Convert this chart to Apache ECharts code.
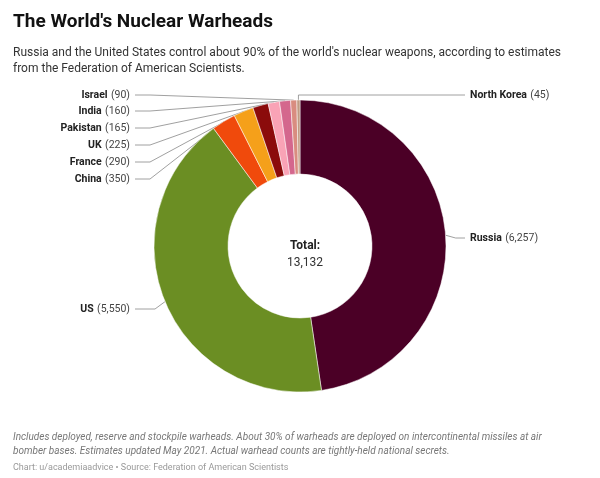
<!DOCTYPE html><html><head><meta charset="utf-8"><script src="https://cdn.jsdelivr.net/npm/echarts@6/dist/echarts.min.js"></script>
<style>body{margin:0;background:#fff}#c{width:600px;height:478px}</style></head><body><div id="c"></div><script>
const countries=['Russia','US','China','France','UK','Pakistan','India','Israel','North Korea'];
const warheads=[6257,5550,350,290,225,165,160,90,45];
const colors=['#4b0026','#6b8e23','#f04a0c','#f5a01a','#8b0b0b','#f9a3b6','#d4678d','#d98c80','#c19a82'];
const labelY={0:238,1:309,2:179,3:162,4:145,5:128,6:111,7:95,8:95};
const total=warheads.reduce((a,b)=>a+b,0);
const chart=echarts.init(document.getElementById('c'));
chart.setOption({
 animation:false,
 title:[{text:"The World's Nuclear Warheads",left:8,top:8,textStyle:{fontFamily:'Roboto',fontSize:19,fontWeight:'bold',color:'#111'}},
  {text:"Russia and the United States control about 90% of the world's nuclear weapons, according to estimates\nfrom the Federation of American Scientists.",left:8,top:40,textStyle:{fontFamily:'Roboto',fontSize:12,fontWeight:'normal',color:'#333',lineHeight:16}},
  {text:"Includes deployed, reserve and stockpile warheads. About 30% of warheads are deployed on intercontinental missiles at air\nbomber bases. Estimates updated May 2021. Actual warhead counts are tightly-held national secrets.",left:8,top:425,textStyle:{fontFamily:'Roboto',fontSize:10,fontStyle:'italic',fontWeight:'normal',color:'#777',lineHeight:14}},
  {text:"Chart: u/academiaadvice • Source: Federation of American Scientists",left:8,top:458,textStyle:{fontFamily:'Roboto',fontSize:9,fontWeight:'normal',color:'#999'}},
  {text:'{a|Total:}\n{b|'+total.toLocaleString('en-US')+'}',left:300,top:232,textAlign:'center',textStyle:{fontWeight:'normal',rich:{a:{fontFamily:'Roboto',fontSize:12,fontWeight:'bold',color:'#222',lineHeight:17},b:{fontFamily:'Roboto',fontSize:12,fontWeight:'normal',color:'#333',lineHeight:17}}}}],
 series:[{type:'pie',center:[300,246],radius:[72,146],startAngle:90,clockwise:true,
  itemStyle:{borderColor:'#fff',borderWidth:0.5},
  data:countries.map((n,i)=>({name:n,value:warheads[i],itemStyle:{color:colors[i]}})),
  label:{formatter:p=>'{n|'+p.name+'} {v|('+p.value.toLocaleString('en-US')+')}',rich:{n:{fontFamily:'Roboto',fontSize:10.5,fontWeight:'bold',color:'#222'},v:{fontFamily:'Roboto',fontSize:10.5,color:'#444'}}},
  labelLine:{show:true,lineStyle:{color:'#888',width:0.8}},
  labelLayout:function(p){
   const i=p.dataIndex,y=labelY[i];const p0=p.labelLinePoints?p.labelLinePoints[0]:[300,100];
   const right=(i===0||i===8);
   if(right){return{x:470,y:y,align:'left',verticalAlign:'middle',labelLinePoints:[p0,[p0[0]+(i===8?0:10),y],[465,y]]};}
   return{x:130,y:y,align:'right',verticalAlign:'middle',labelLinePoints:[p0,[i===1?p0[0]-10:150,y],[135,y]]};
  }}]
});
</script></body></html>
